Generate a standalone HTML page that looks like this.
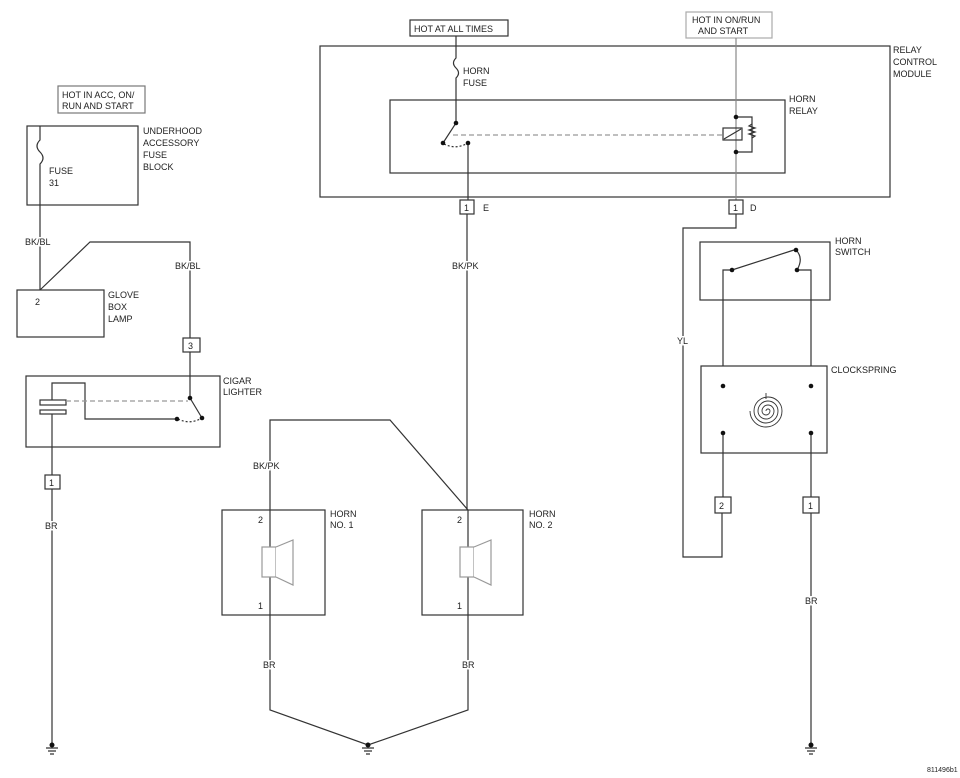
<!DOCTYPE html>
<html><head><meta charset="utf-8"><style>
html,body{margin:0;padding:0;background:#fff;}
svg{display:block;}
text{font-family:"Liberation Sans",sans-serif;font-size:9px;fill:#222;}
.w{stroke:#fff;stroke-width:3px;paint-order:stroke;}
</style></head><body>
<svg width="960" height="778" viewBox="0 0 960 778" xmlns="http://www.w3.org/2000/svg">
<g fill="none" stroke="#333" stroke-width="1.2">
<rect x="58" y="86" width="87" height="27" stroke="#777"/>
<rect x="27" y="126" width="111" height="79"/>
<path d="M40 126 V140 q-6 6 0 12 q6 6 0 12 V290"/>
<path d="M40 290 L90 242 H190 V338"/>
<rect x="17" y="290" width="87" height="47"/>
<rect x="183" y="338" width="17" height="14" fill="#fff"/>
<path d="M190 352 V398"/>
<rect x="26" y="376" width="194" height="71"/>
<path d="M52 400 V383 H85 V419 H177"/>
<rect x="40" y="400" width="26" height="5"/>
<rect x="40" y="410" width="26" height="4"/>
<path d="M52 414 V475"/>
<path d="M66 401 H188" stroke-dasharray="5,3" stroke="#999"/>
<path d="M190 398 L202 418"/>
<path d="M178 419 q12 6 24 -1" stroke-dasharray="2,2"/>
<rect x="45" y="475" width="15" height="14" fill="#fff"/>
<path d="M52 489 V745"/>
<rect x="410" y="20" width="98" height="16"/>
<rect x="686" y="12" width="86" height="26" stroke="#aaa"/>
<rect x="320" y="46" width="570" height="151"/>
<rect x="390" y="100" width="395" height="73"/>
<path d="M456 36 V58 q-5 5 0 10 q5 5 0 10 V123 L443 143"/>
<path d="M453 135 H722" stroke-dasharray="5,3" stroke="#999"/>
<path d="M444 144 q12 6 24 -1" stroke-dasharray="2,2"/>
<path d="M468 143 V200"/>
<path d="M736 38 V200" stroke="#888"/>
<rect x="723" y="128" width="19" height="12"/>
<path d="M724 139 L741 129"/>
<path d="M736 117 H752 V152 H736"/>
<path d="M752 124 l-3 2 l6 2 l-6 2 l6 2 l-6 2 l6 2 l-3 2"/>
<rect x="460" y="200" width="14" height="14" fill="#fff"/>
<rect x="729" y="200" width="14" height="14" fill="#fff"/>
<path d="M467 214 V510"/>
<path d="M468 510 L390 420 H270 V510"/>
<rect x="222" y="510" width="103" height="105"/>
<rect x="422" y="510" width="101" height="105"/>
<path d="M270 510 V710 L368 745 L468 710 V510" />
<g stroke="#999" fill="#fff">
<rect x="262" y="547" width="14" height="30"/><path d="M276 547 L293 540 V585 L276 577"/>
<rect x="460" y="547" width="14" height="30"/><path d="M474 547 L491 540 V585 L474 577"/>
</g>
<path d="M736 214 V228 H683 V557 H722 V513"/>
<rect x="700" y="242" width="130" height="58"/>
<path d="M723 366 V270 H732 L794 250"/>
<path d="M796 250 q8 8 1 20"/>
<path d="M797 270 H811 V366"/>
<rect x="701" y="366" width="126" height="87"/>
<path d="M723 433 V497 M811 433 V497"/>
<path d="M766 411 a2 2 0 0 1 4 0 a4 4 0 0 1 -8 0 a6 6 0 0 1 12 0 a8 8 0 0 1 -16 0 a10 10 0 0 1 20 0 a12 12 0 0 1 -24 0 a14 14 0 0 1 28 0 a16 16 0 0 1 -32 0 M766 393 V399" stroke-width="0.9"/>
<rect x="715" y="497" width="16" height="16" fill="#fff"/>
<rect x="803" y="497" width="16" height="16" fill="#fff"/>
<path d="M811 513 V745"/>
<path d="M46 748 H58 M48 751 H56 M50 754 H54 M362 748 H374 M364 751 H372 M366 754 H370 M805 748 H817 M807 751 H815 M809 754 H813"/>
</g>
<g fill="#111">
<circle cx="52" cy="745" r="2.5"/><circle cx="368" cy="745" r="2.5"/><circle cx="811" cy="745" r="2.5"/>
<circle cx="190" cy="398" r="2.3"/><circle cx="202" cy="418" r="2.3"/><circle cx="177" cy="419" r="2.3"/>
<circle cx="456" cy="123" r="2.3"/><circle cx="443" cy="143" r="2.3"/><circle cx="468" cy="143" r="2.3"/>
<circle cx="736" cy="117" r="2.3"/><circle cx="736" cy="152" r="2.3"/>
<circle cx="732" cy="270" r="2.3"/><circle cx="796" cy="250" r="2.3"/><circle cx="797" cy="270" r="2.3"/>
<circle cx="723" cy="386" r="2.3"/><circle cx="811" cy="386" r="2.3"/><circle cx="723" cy="433" r="2.3"/><circle cx="811" cy="433" r="2.3"/>
</g>
<g>
<text x="62" y="98">HOT IN ACC, ON/</text><text x="62" y="109">RUN AND START</text>
<text x="143" y="134">UNDERHOOD</text><text x="143" y="146">ACCESSORY</text><text x="143" y="158">FUSE</text><text x="143" y="170">BLOCK</text>
<text x="49" y="174">FUSE</text><text x="49" y="186">31</text>
<text class="w" x="25" y="245">BK/BL</text><text class="w" x="175" y="269">BK/BL</text>
<text x="35" y="305">2</text>
<text x="108" y="298">GLOVE</text><text x="108" y="310">BOX</text><text x="108" y="322">LAMP</text>
<text x="188" y="349">3</text>
<text x="223" y="384">CIGAR</text><text x="223" y="395">LIGHTER</text>
<text x="49" y="486">1</text><text class="w" x="45" y="529">BR</text>
<text x="414" y="32">HOT AT ALL TIMES</text>
<text x="692" y="23">HOT IN ON/RUN</text><text x="698" y="34">AND START</text>
<text x="893" y="53">RELAY</text><text x="893" y="65">CONTROL</text><text x="893" y="77">MODULE</text>
<text x="463" y="74">HORN</text><text x="463" y="86">FUSE</text>
<text x="789" y="102">HORN</text><text x="789" y="114">RELAY</text>
<text x="464" y="211">1</text><text x="483" y="211">E</text>
<text x="733" y="211">1</text><text x="750" y="211">D</text>
<text class="w" x="452" y="269">BK/PK</text><text class="w" x="253" y="469">BK/PK</text>
<text x="258" y="523">2</text><text x="258" y="609">1</text>
<text x="457" y="523">2</text><text x="457" y="609">1</text>
<text x="330" y="517">HORN</text><text x="330" y="528">NO. 1</text>
<text x="529" y="517">HORN</text><text x="529" y="528">NO. 2</text>
<text class="w" x="263" y="668">BR</text><text class="w" x="462" y="668">BR</text>
<text class="w" x="677" y="344">YL</text>
<text x="835" y="244">HORN</text><text x="835" y="255">SWITCH</text>
<text x="831" y="373">CLOCKSPRING</text>
<text x="719" y="509">2</text><text x="808" y="509">1</text>
<text class="w" x="805" y="604">BR</text>
<text x="927" y="772" style="font-size:7px">811496b1</text>
</g>
</svg>
</body></html>
